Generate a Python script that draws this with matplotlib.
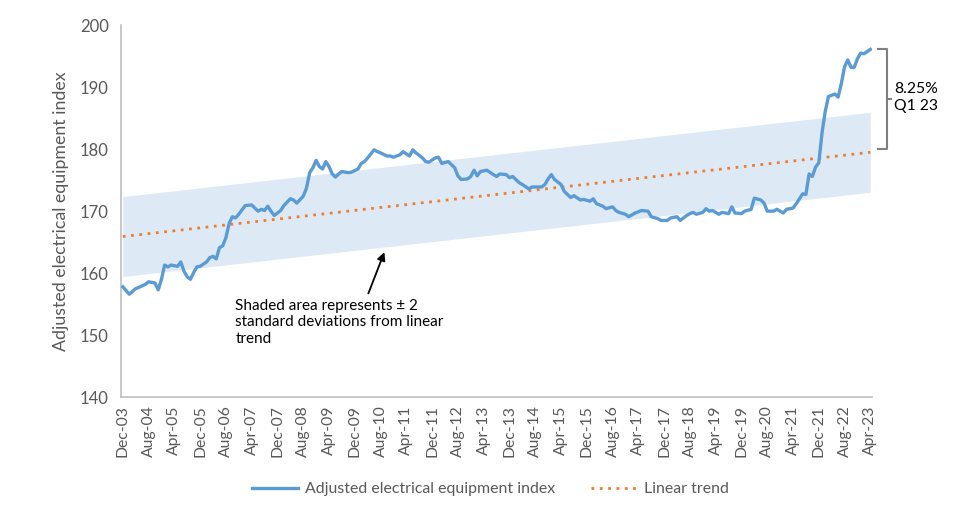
import matplotlib.pyplot as plt
import numpy as np

# months counted from Dec-03 (0) to Apr-23 (232)
months = [0, 2, 4, 5, 7, 8, 10, 11, 12, 13, 14, 15, 17, 18, 19, 20, 21, 22, 23, 24,
          26, 27, 28, 29, 30, 31, 32, 33, 34, 35, 36, 38, 40, 41, 42, 43, 44, 45, 46, 47,
          49, 50, 52, 53, 54, 56, 57, 58, 59, 60, 61, 62, 63, 64, 65, 66, 67, 68, 70, 71,
          73, 74, 75, 76, 78, 79, 80, 82, 83, 84, 86, 87, 89, 90, 91, 93, 94, 95, 97, 98,
          99, 101, 103, 104, 105, 107, 108, 109, 110, 111, 113, 115, 116, 117, 119, 120, 121, 123, 124, 126,
          127, 130, 131, 132, 133, 134, 136, 137, 139, 140, 142, 143, 145, 146, 147, 149, 150, 152, 153, 154,
          156, 157, 159, 161, 163, 164, 166, 167, 169, 170, 172, 173, 175, 176, 177, 178, 180, 181, 182, 183,
          185, 186, 188, 189, 190, 192, 193, 195, 196, 198, 199, 200, 202, 203, 205, 206, 208, 209, 211, 212,
          213, 214, 215, 216, 217, 218, 219, 221, 222, 223, 224, 225, 226, 227, 228, 229, 230, 232]
index_vals = [157.8, 156.6, 157.5, 157.7, 158.2, 158.6, 158.4, 157.3, 159.0, 161.3, 161.0, 161.3, 161.1, 161.8, 160.3, 159.4, 159.0, 160.1, 161.0, 161.1,
              161.8, 162.5, 162.7, 162.3, 164.1, 164.4, 165.7, 168.0, 169.1, 168.9, 169.5, 170.9, 171.0, 170.5, 170.0, 170.3, 170.1, 170.8, 170.0, 169.3,
              170.1, 170.9, 172.0, 171.8, 171.3, 172.4, 173.7, 176.2, 177.0, 178.2, 177.2, 176.8, 178.0, 177.2, 176.0, 175.5, 176.0, 176.4, 176.2, 176.3,
              176.8, 177.7, 178.0, 178.6, 179.9, 179.6, 179.4, 178.9, 178.9, 178.7, 179.1, 179.6, 178.9, 179.9, 179.4, 178.6, 178.0, 177.9, 178.6, 178.7,
              177.7, 178.0, 177.0, 175.7, 175.1, 175.2, 175.6, 176.6, 175.7, 176.4, 176.6, 175.9, 175.6, 176.0, 175.9, 175.4, 175.6, 174.6, 174.3, 173.6,
              173.9, 173.9, 174.3, 175.2, 175.9, 175.1, 174.3, 173.2, 172.2, 172.5, 171.8, 171.9, 171.6, 172.0, 171.2, 170.8, 170.4, 170.7, 170.1, 169.8,
              169.5, 169.1, 169.7, 170.1, 170.0, 169.1, 168.8, 168.5, 168.5, 168.9, 169.1, 168.5, 169.3, 169.6, 169.8, 169.5, 169.8, 170.4, 170.0, 170.1,
              169.5, 169.8, 169.6, 170.7, 169.7, 169.6, 170.0, 170.3, 172.1, 171.8, 171.3, 170.0, 170.0, 170.3, 169.7, 170.3, 170.5, 171.2, 172.8, 172.7,
              176.0, 175.6, 177.1, 177.8, 182.6, 186.1, 188.5, 188.9, 188.4, 190.6, 193.3, 194.4, 193.2, 193.2, 194.6, 195.5, 195.4, 196.1]

trend_months = [0, 232]
trend_vals = [165.9, 179.5]
band_half = 6.45  # 2 standard deviations

tick_labels = ["Dec-03", "Aug-04", "Apr-05", "Dec-05", "Aug-06", "Apr-07", "Dec-07", "Aug-08",
               "Apr-09", "Dec-09", "Aug-10", "Apr-11", "Dec-11", "Aug-12", "Apr-13", "Dec-13",
               "Aug-14", "Apr-15", "Dec-15", "Aug-16", "Apr-17", "Dec-17", "Aug-18", "Apr-19",
               "Dec-19", "Aug-20", "Apr-21", "Dec-21", "Aug-22", "Apr-23"]

plt.rcParams['font.family'] = ['Lato', 'DejaVu Sans']
grey = '#595959'

fig = plt.figure(figsize=(9.54, 5.15), dpi=100)
ax = fig.add_axes([0.127, 0.229, 0.787, 0.722])

tv = np.array(trend_vals)
ax.fill_between(trend_months, tv - band_half, tv + band_half, color='#DDEAF6', lw=0, zorder=1)
ax.plot(months, index_vals, color='#5B9BD5', lw=2.4, zorder=3,
        label='Adjusted electrical equipment index', solid_joinstyle='round')
ax.plot(trend_months, trend_vals, color='#ED7D31', lw=2, ls=(0, (1, 2)), zorder=2,
        label='Linear trend')

ax.set_xlim(-0.5, 232.5)
ax.set_ylim(140, 200)
ax.set_yticks(range(140, 201, 10))
ax.set_xticks(range(0, 233, 8))
ax.set_xticklabels(tick_labels, rotation=90)
ax.tick_params(axis='both', length=0, colors=grey)
ax.tick_params(axis='x', pad=6, labelsize=11.3)
ax.tick_params(axis='y', pad=9, labelsize=12)
for s in ['top', 'right']:
    ax.spines[s].set_visible(False)
for s in ['left', 'bottom']:
    ax.spines[s].set_color('#BFBFBF')
    ax.spines[s].set_linewidth(1.2)
ax.set_ylabel('Adjusted electrical equipment index', fontsize=12.8, color=grey, labelpad=8)

# note with arrow
ax.annotate('', xy=(81.5, 163.8), xytext=(75.9, 156.3),
            arrowprops=dict(arrowstyle='-|>', color='black', lw=1.3, mutation_scale=12))
ax.text(34.9, 155.9, 'Shaded area represents \u00b1 2\nstandard deviations from linear\ntrend',
        fontsize=11, va='top', ha='left', linespacing=1.25)

# bracket on the right
bx0, bx1, bx2 = 234.5, 237.1, 238.3
btop, bbot = 196.1, 180.0
bmid = (btop + bbot) / 2
ax.plot([bx0, bx1, bx1, bx0], [btop, btop, bbot, bbot], color='#7F7F7F', lw=1.5, clip_on=False)
ax.plot([bx1, bx2], [bmid, bmid], color='#7F7F7F', lw=1.5, clip_on=False)
ax.text(239.3, bmid + 0.3, '8.25%\nQ1 23', fontsize=11.3, va='center', ha='left',
        linespacing=1.35, clip_on=False)

fig.legend(loc='center', bbox_to_anchor=(0.514, 0.05), ncol=2, frameon=False,
           fontsize=11.4, labelcolor=grey, handlelength=2.9, handletextpad=0.45,
           columnspacing=2.3)

fig.savefig('out.png', dpi=100)
